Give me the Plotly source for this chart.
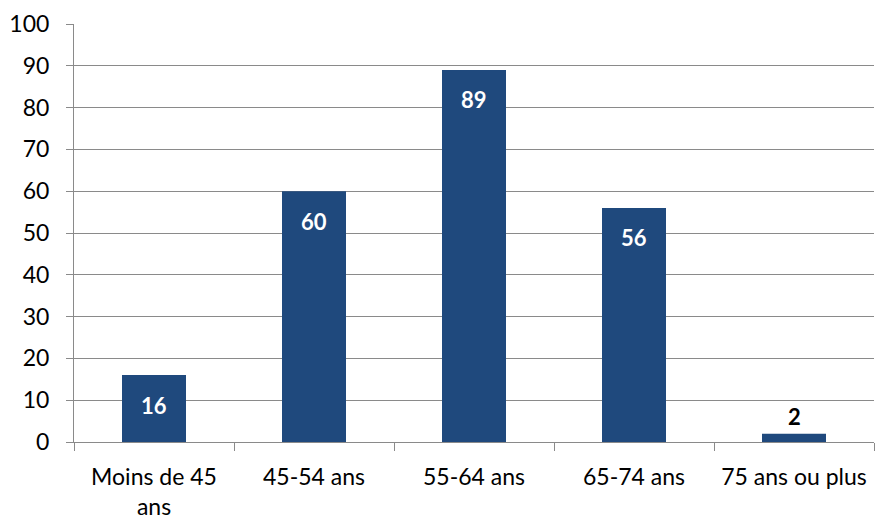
import plotly.graph_objects as go

categories = ["Moins de 45<br>ans", "45-54 ans", "55-64 ans", "65-74 ans", "75 ans ou plus"]
values = [16, 60, 89, 56, 2]
y_ticks = list(range(0, 101, 10))

bar_color = "#1F497D"
grid_color = "#8A8A8A"
font_family = "Lato, 'Open Sans', sans-serif"

fig = go.Figure(
    go.Bar(
        x=categories,
        y=values,
        marker=dict(color=bar_color, line=dict(width=0)),
        width=0.4,
        hoverinfo="skip",
    )
)

# value labels: white inside the tall bars, dark above the short one
for cat, v in zip(categories, values):
    inside = v >= 10
    fig.add_annotation(
        x=cat,
        y=v,
        text=f"<b>{v}</b>",
        showarrow=False,
        yshift=-30 if inside else 17,
        font=dict(family=font_family, size=22, color="white" if inside else "black"),
    )

fig.update_layout(
    width=875,
    height=518,
    margin=dict(l=74, r=1, t=24, b=76),
    paper_bgcolor="white",
    plot_bgcolor="white",
    showlegend=False,
    font=dict(family=font_family, size=23, color="black"),
)

fig.update_xaxes(
    type="category",
    tickson="boundaries",
    ticks="outside",
    ticklen=8,
    tickcolor=grid_color,
    showline=True,
    linecolor=grid_color,
    linewidth=1,
    showgrid=False,
    ticklabelstandoff=14,
    automargin=False,
)

fig.update_yaxes(
    range=[0, 100],
    tickvals=y_ticks,
    ticks="outside",
    ticklen=7,
    tickcolor=grid_color,
    showline=True,
    linecolor=grid_color,
    linewidth=1,
    showgrid=True,
    gridcolor=grid_color,
    gridwidth=1,
    zeroline=False,
    ticklabelstandoff=12,
    automargin=False,
)

fig.write_html("out.html")
